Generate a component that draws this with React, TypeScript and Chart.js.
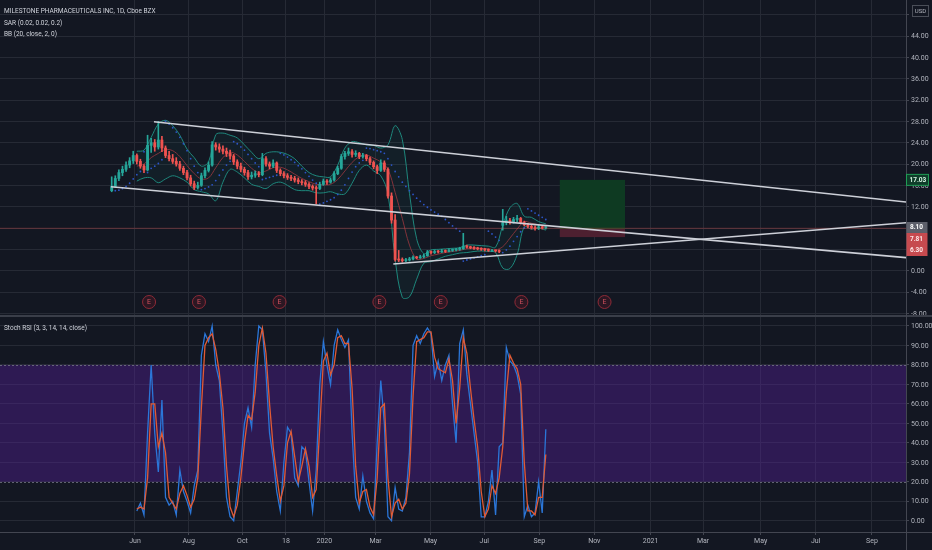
import { useEffect, useRef } from "react";
import Chart from "chart.js/auto";

// ---------- DATA ----------
const title = "MILESTONE PHARMACEUTICALS INC, 1D, Cboe BZX";
const sarLabel = "SAR (0.02, 0.02, 0.2)";
const bbLabel = "BB (20, close, 2, 0)";
const stochLabel = "Stoch RSI (3, 3, 14, 14, close)";

// candle grid, in trading-day index units (0 = IPO day)
const candleStart = -2.2;
const candleStep = 2.804;

const opens = [
  15.0, 15.8, 17.3, 18.4, 19.0, 19.8, 20.6, 21.6, 20.5, 19.6,
  18.9, 23.5, 24.0, 23.2, 24.5, 23.0, 21.6, 21.0, 20.5, 20.0,
  19.2, 18.4, 17.4, 16.3, 15.6, 16.0, 17.8, 18.8, 19.8, 23.6,
  23.2, 22.8, 22.4, 22.0, 21.5, 20.4, 19.6, 19.0, 18.4, 17.6,
  17.9, 18.2, 18.0, 21.0, 20.0, 19.6, 20.2, 18.8, 18.2, 17.8,
  17.5, 17.3, 17.0, 16.7, 16.5, 16.2, 15.8, 15.5, 15.4, 16.2,
  16.8, 16.6, 17.0, 18.2, 19.2, 21.4, 22.0, 22.3, 21.8, 22.0,
  21.4, 21.6, 21.0, 20.3, 19.5, 18.8, 20.2, 19.0, 14.0, 9.5,
  2.1, 2.0, 1.9, 2.0, 2.2, 2.5, 2.4, 2.6, 2.8, 3.5,
  3.4, 3.6, 3.5, 3.7, 3.6, 3.8, 3.9, 4.0, 4.1, 4.6,
  4.4, 4.3, 4.2, 4.1, 4.0, 3.9, 3.8, 3.8, 3.7, 8.5,
  9.0, 9.4, 9.2, 9.6, 9.8, 9.0, 8.6, 8.3, 8.1, 7.9, 8.2, 8.0,
];
const highs = [
  17.6, 17.8, 18.9, 19.6, 20.4, 21.2, 22.4, 21.9, 20.9, 19.9,
  25.4, 24.8, 24.6, 28.0, 25.2, 23.4, 22.4, 21.8, 21.2, 20.5,
  19.6, 18.8, 17.9, 16.8, 16.6, 18.3, 19.3, 20.4, 24.2, 24.0,
  23.8, 23.4, 23.0, 22.6, 21.8, 20.8, 20.2, 19.4, 18.8, 18.5,
  18.7, 18.6, 22.0, 21.4, 20.4, 20.8, 20.4, 19.1, 18.6, 18.2,
  17.9, 17.7, 17.4, 17.1, 16.9, 16.5, 16.1, 15.9, 16.6, 17.2,
  17.1, 17.4, 18.6, 19.6, 21.8, 22.4, 23.0, 22.7, 22.5, 22.2,
  22.0, 21.8, 21.3, 20.6, 19.8, 20.8, 20.6, 19.3, 14.6, 10.5,
  3.8, 2.4, 2.3, 2.5, 2.8, 2.7, 2.9, 3.1, 3.8, 3.7,
  3.9, 3.8, 4.0, 3.9, 4.1, 4.1, 4.2, 4.4, 7.0, 4.8,
  4.6, 4.5, 4.4, 4.3, 4.2, 4.1, 4.0, 3.9, 3.9, 11.5,
  10.2, 9.8, 10.0, 10.4, 10.0, 9.3, 8.9, 8.6, 8.4, 8.5, 8.4, 8.3,
];
const lows = [
  14.8, 15.6, 16.9, 17.8, 18.6, 19.3, 20.1, 20.0, 19.2, 18.4,
  18.7, 22.2, 22.4, 22.8, 22.3, 21.2, 20.6, 20.1, 19.6, 18.8,
  18.0, 17.0, 15.9, 15.2, 15.3, 15.8, 17.4, 18.5, 19.6, 22.6,
  22.2, 21.9, 21.4, 20.9, 19.9, 19.1, 18.5, 17.9, 17.1, 17.2,
  17.5, 17.6, 17.8, 19.6, 19.1, 19.3, 18.4, 17.8, 17.4, 17.1,
  16.9, 16.6, 16.3, 16.1, 15.8, 15.4, 15.1, 12.5, 15.2, 16.0,
  16.2, 16.4, 16.8, 18.0, 19.0, 20.9, 21.6, 21.3, 21.4, 21.0,
  21.1, 20.6, 19.9, 19.1, 18.2, 18.6, 18.6, 13.6, 8.9, 1.8,
  1.7, 1.6, 1.7, 1.8, 2.0, 2.2, 2.3, 2.4, 2.7, 3.1,
  3.2, 3.3, 3.4, 3.4, 3.5, 3.6, 3.7, 3.8, 4.0, 4.2,
  4.1, 4.0, 3.9, 3.8, 3.7, 3.6, 3.6, 3.5, 3.4, 7.6,
  8.6, 8.7, 8.9, 9.2, 8.8, 8.4, 8.0, 7.8, 7.6, 7.7, 7.8, 7.8,
];
const closes = [
  15.8, 17.3, 18.4, 19.0, 19.8, 20.6, 21.6, 20.5, 19.6, 18.9,
  23.5, 24.0, 23.2, 24.5, 23.0, 21.6, 21.0, 20.5, 20.0, 19.2,
  18.4, 17.4, 16.3, 15.6, 16.0, 17.8, 18.8, 19.8, 23.6, 23.2,
  22.8, 22.4, 22.0, 21.5, 20.4, 19.6, 19.0, 18.4, 17.6, 17.9,
  18.2, 18.0, 21.0, 20.0, 19.6, 20.2, 18.8, 18.2, 17.8, 17.5,
  17.3, 17.0, 16.7, 16.5, 16.2, 15.8, 15.5, 15.4, 16.2, 16.8,
  16.6, 17.0, 18.2, 19.2, 21.4, 22.0, 22.3, 21.8, 22.0, 21.4,
  21.6, 21.0, 20.3, 19.5, 18.8, 20.2, 19.0, 14.0, 9.5, 2.1,
  2.0, 1.9, 2.0, 2.2, 2.5, 2.4, 2.6, 2.8, 3.5, 3.4,
  3.6, 3.5, 3.7, 3.6, 3.8, 3.9, 4.0, 4.1, 4.6, 4.4,
  4.3, 4.2, 4.1, 4.0, 3.9, 3.8, 3.8, 3.7, 3.6, 9.0,
  9.4, 9.2, 9.6, 9.8, 9.0, 8.6, 8.3, 8.1, 7.9, 8.2, 8.0, 8.1,
];
const sar = [
  null, 15.0, 15.1, 15.4, 15.8, 16.4, 17.2, 18.0, 18.6, 22.3,
  18.4, 19.2, 19.6, 20.1, 20.8, 28.0, 27.5, 26.8, 26.0, 25.0,
  23.8, 22.5, 21.0, 19.6, 18.4, 15.2, 15.4, 15.7, 16.1, 16.9,
  17.9, 18.9, 19.8, 20.5, 24.2, 23.8, 23.2, 22.6, 21.8, 21.0,
  20.2, 19.5, 17.1, 17.3, 17.5, 17.7, 17.9, 22.0, 21.7, 21.3,
  20.8, 20.3, 19.7, 19.1, 18.4, 17.7, 17.0, 16.4, 12.5, 12.7,
  13.0, 13.3, 13.7, 14.3, 15.1, 16.1, 17.3, 18.5, 19.5, 20.2,
  20.7, 23.0, 22.9, 22.7, 22.5, 22.3, 22.0, 21.0, 19.8, 18.6,
  17.6, 16.6, 15.8, 15.0, 14.3, 13.6, 13.0, 12.4, 11.9, 11.4,
  11.0, 10.6, 10.2, 9.6, 9.0, 8.4, 7.9, 7.4, 1.8, 2.0,
  2.2, 2.4, 2.6, 2.8, 3.0, 7.4, 6.9, 6.3, 5.7, 3.4,
  3.9, 4.6, 5.5, 6.4, 7.3, 8.0, 11.6, 11.2, 10.8, 10.4, 10.0, 9.6,
];

// Bollinger bands: every 2nd candle starting at candle 7
const bbFirst = 7;
const bbEvery = 2;
const bbUpper = [
  22.4, 22.6, 25.0, 27.5, 28.2, 27.2, 25.4, 22.8, 21.2, 19.6,
  20.4, 25.5, 25.8, 25.4, 24.9, 23.6, 22.2, 21.0, 22.0, 22.3,
  22.2, 21.8, 21.0, 19.6, 18.4, 17.8, 17.6, 17.6, 19.8, 23.0,
  24.2, 24.0, 23.6, 23.5, 23.0, 23.6, 27.2, 24.6, 14.5, 6.0,
  3.2, 3.9, 4.0, 4.1, 4.2, 4.3, 4.8, 4.8, 4.7, 4.6,
  4.4, 8.5, 11.8, 12.6, 10.2, 10.0, 9.2, 8.8,
];
const bbBasis = [
  19.6, 20.0, 21.2, 22.0, 22.7, 22.5, 21.4, 19.7, 18.2, 17.2,
  17.4, 19.3, 21.2, 22.2, 21.7, 20.5, 19.2, 18.4, 18.7, 19.3,
  19.4, 18.9, 18.1, 17.3, 16.7, 16.2, 16.1, 16.2, 17.1, 18.7,
  20.3, 21.4, 21.7, 21.1, 20.4, 19.0, 14.7, 9.8, 4.8, 2.2,
  2.3, 2.8, 3.1, 3.4, 3.6, 3.8, 4.1, 4.2, 4.2, 4.1,
  3.9, 4.5, 6.1, 7.8, 9.2, 8.9, 8.6, 8.2,
];
const bbLower = [
  16.8, 17.4, 17.4, 16.5, 17.2, 17.8, 17.4, 16.6, 15.2, 14.8,
  14.4, 13.1, 16.6, 19.0, 18.5, 17.4, 16.2, 15.8, 15.4, 16.3,
  16.6, 16.0, 15.2, 15.0, 15.0, 14.6, 14.6, 14.8, 14.4, 14.4,
  16.4, 18.8, 19.8, 18.7, 17.8, 14.4, 2.2, -5.0, -4.9, -1.6,
  1.4, 1.7, 2.2, 2.7, 3.0, 3.3, 3.4, 3.6, 3.7, 3.6,
  3.4, 0.5, 0.4, 3.0, 8.2, 7.8, 8.0, 7.6,
];

// Stoch RSI, one value per candle starting at candle 7
const stochFirst = 7;
const stochK = [
  5, 9, 3, 45, 80, 45, 25, 62, 12, 8,
  10, 3, 26, 15, 10, 4, 18, 26, 85, 96,
  92, 100, 80, 72, 45, 12, 2, 0, 15, 30,
  50, 58, 48, 80, 100, 98, 76, 45, 32, 15,
  5, 30, 48, 45, 22, 18, 38, 36, 20, 5,
  26, 70, 92, 80, 70, 90, 98, 93, 89, 93,
  45, 12, 6, 23, 10, 4, 1, 40, 72, 50,
  2, 0, 17, 6, 5, 12, 35, 90, 95, 91,
  96, 99, 96, 74, 82, 72, 80, 85, 60, 40,
  91, 98, 75, 60, 45, 30, 2, 2, 10, 26,
  3, 38, 40, 89, 82, 80, 75, 65, 2, 8,
  2, 4, 20, 4, 47,
];
const stochD = [
  6, 7, 6, 22, 60, 60, 38, 45, 35, 12,
  9, 6, 14, 18, 13, 7, 11, 22, 58, 90,
  94, 96, 88, 76, 58, 28, 7, 2, 8, 22,
  40, 54, 52, 66, 90, 99, 86, 60, 38, 23,
  10, 18, 40, 46, 33, 20, 28, 37, 28, 12,
  16, 48, 82, 86, 75, 80, 94, 95, 91, 91,
  68, 28, 9, 15, 16, 7, 3, 22, 58, 60,
  22, 2, 9, 11, 6, 9, 24, 64, 92, 93,
  94, 97, 97, 84, 78, 77, 76, 83, 72, 50,
  68, 94, 86, 68, 52, 38, 15, 2, 6, 18,
  14, 22, 38, 66, 85, 81, 78, 70, 30, 5,
  5, 3, 12, 12, 34,
];

// time axis (trading-day index) and labels
const timeTickIdx = [16, 58, 100, 134, 164, 204, 247, 289, 332, 375, 419, 460, 505, 548, 592];
const timeTickLabels = ["Jun", "Aug", "Oct", "18", "2020", "Mar", "May", "Jul", "Sep", "Nov", "2021", "Mar", "May", "Jul", "Sep"];
const priceTicks = [-8, -4, 0, 4, 8, 12, 16, 20, 24, 28, 32, 36, 40, 44, 48];
const rsiTicks = [0, 10, 20, 30, 40, 50, 60, 70, 80, 90, 100];

// drawings
const earningsIdx = [27, 66, 129, 207, 255, 318, 383];
const trendStartIdx = [30.85, -2.76, 217.9];
const trendStartPrice = [27.94, 15.75, 1.26];
const trendEndIdx = [618.6, 618.6, 618.6];
const trendEndPrice = [12.88, 2.44, 9.0];
const positionFromIdx = 348;
const positionToIdx = 399;
const targetPrice = 17.03;
const entryPrice = 7.81;
const stopPrice = 6.3;
const lastPrice = 8.1;
const priceLineLevel = 7.95;

// view ranges
const X_MIN = -89.5;
const X_MAX = 618.6;
const P_MIN = -8.31;
const P_MAX = 50.76;
const R_MIN = -5.8;
const R_MAX = 104.62;

// ---------- STYLE ----------
const FONT = "Roboto, 'Noto Sans', 'DejaVu Sans', sans-serif";
const BG = "#131722";
const GRID = "#262a35";
const AXIS = "#434651";
const TEXT = "#b2b5be";
const UP = "#26a69a";
const DOWN = "#ef5350";

Chart.defaults.font.family = FONT;

function xScale(showLabels: boolean): any {
  return {
    type: "linear",
    min: X_MIN,
    max: X_MAX,
    offset: false,
    afterBuildTicks: (s: any) => {
      s.ticks = timeTickIdx.map((v) => ({ value: v }));
    },
    afterFit: (s: any) => {
      s.height = showLabels ? 18 : 0;
      s.paddingLeft = 0;
      s.paddingRight = 0;
    },
    grid: { color: GRID, offset: false, drawTicks: showLabels, tickLength: 3, tickColor: AXIS },
    border: { display: false },
    ticks: {
      display: showLabels,
      autoSkip: false,
      maxRotation: 0,
      padding: 2,
      color: TEXT,
      font: { size: 7, family: FONT },
      callback: (v: any) => {
        const k = timeTickIdx.indexOf(Number(v));
        return k >= 0 ? timeTickLabels[k] : "";
      },
    },
  };
}

function yScale(min: number, max: number, ticks: number[]): any {
  return {
    type: "linear",
    position: "right",
    min,
    max,
    afterBuildTicks: (s: any) => {
      s.ticks = ticks.map((v) => ({ value: v }));
    },
    afterFit: (s: any) => {
      s.width = 26;
    },
    grid: { color: GRID, drawTicks: true, tickLength: 3, tickColor: AXIS },
    border: { display: false },
    ticks: { display: false },
  };
}

function drawYLabels(chart: any, ticks: number[], skip: number | null) {
  const { ctx, scales } = chart;
  ctx.save();
  ctx.fillStyle = TEXT;
  ctx.font = `7px ${FONT}`;
  ctx.textAlign = "left";
  ctx.textBaseline = "middle";
  ticks.forEach((v) => {
    if (skip !== null && v === skip) return;
    ctx.fillText(v.toFixed(2), 911, scales.y.getPixelForValue(v) + 0.5);
  });
  ctx.restore();
}

function topConfig(): any {
  const xs = closes.map((_, i) => candleStart + i * candleStep);
  const colors = closes.map((c, i) => (c >= opens[i] ? UP : DOWN));
  const bbXs = bbUpper.map((_, k) => candleStart + (bbFirst + k * bbEvery) * candleStep);
  const line = (xsArr: number[], ys: any[]) => ys.map((y, i) => ({ x: xsArr[i], y }));

  const trendSets = trendStartIdx.map((s, k) => ({
    type: "line",
    data: [
      { x: s, y: trendStartPrice[k] },
      { x: trendEndIdx[k], y: trendEndPrice[k] },
    ],
    borderColor: "#cdd0d8",
    borderWidth: 1.6,
    pointRadius: 0,
    pointHoverRadius: 0,
    tension: 0,
    order: 1,
  }));

  const overlay = {
    id: "topOverlay",
    beforeDatasetsDraw(chart: any) {
      const { ctx, scales } = chart;
      const x0 = scales.x.getPixelForValue(positionFromIdx);
      const x1 = scales.x.getPixelForValue(positionToIdx);
      const yT = scales.y.getPixelForValue(targetPrice);
      const yE = scales.y.getPixelForValue(entryPrice);
      const yS = scales.y.getPixelForValue(stopPrice);
      ctx.save();
      ctx.fillStyle = "#0e3a22";
      ctx.fillRect(x0, yT, x1 - x0, yE - yT);
      ctx.fillStyle = "#4d2030";
      ctx.fillRect(x0, yE, x1 - x0, yS - yE);
      ctx.restore();
    },
    afterDatasetsDraw(chart: any) {
      const { ctx, scales, chartArea } = chart;
      ctx.save();
      const yc = chartArea.bottom - 13;
      ctx.font = `7px ${FONT}`;
      ctx.textAlign = "center";
      ctx.textBaseline = "middle";
      earningsIdx.forEach((idx) => {
        const x = scales.x.getPixelForValue(idx);
        ctx.beginPath();
        ctx.arc(x, yc, 6.5, 0, Math.PI * 2);
        ctx.fillStyle = "rgba(120,25,40,0.25)";
        ctx.fill();
        ctx.lineWidth = 1;
        ctx.strokeStyle = "#8e2b37";
        ctx.stroke();
        ctx.fillStyle = "#d0525e";
        ctx.fillText("E", x, yc + 0.5);
      });
      ctx.restore();
    },
    afterDraw(chart: any) {
      const { ctx, scales } = chart;
      drawYLabels(chart, priceTicks, 48);
      ctx.save();
      // header
      ctx.fillStyle = "#d1d4dc";
      ctx.font = `6.5px ${FONT}`;
      ctx.textAlign = "left";
      ctx.textBaseline = "middle";
      ctx.fillText(title, 4, 11.5);
      ctx.fillText(sarLabel, 4, 23);
      ctx.fillText(bbLabel, 4, 34.5);
      // axis line
      ctx.fillStyle = AXIS;
      ctx.fillRect(906, 0, 1, 315);
      // USD box
      ctx.strokeStyle = "#4a4e58";
      ctx.lineWidth = 1;
      ctx.strokeRect(912.5, 5.5, 16, 11);
      ctx.fillStyle = TEXT;
      ctx.font = `6px ${FONT}`;
      ctx.textAlign = "center";
      ctx.fillText("USD", 920.5, 11.2);
      // price labels
      ctx.textAlign = "left";
      ctx.font = `bold 6.5px ${FONT}`;
      const yT = scales.y.getPixelForValue(targetPrice);
      ctx.fillStyle = "#0f3d2a";
      ctx.fillRect(906.5, yT - 5.5, 22, 11);
      ctx.strokeStyle = "#1f9d55";
      ctx.strokeRect(906.5, yT - 5.5, 22, 11);
      ctx.fillStyle = "#d7f5e3";
      ctx.fillText(targetPrice.toFixed(2), 909.5, yT + 0.3);
      const yL = scales.y.getPixelForValue(lastPrice);
      ctx.fillStyle = "#5d606b";
      ctx.fillRect(906.5, yL - 5.5, 21, 11);
      ctx.fillStyle = "#ffffff";
      ctx.fillText(lastPrice.toFixed(2), 910, yL + 0.3);
      ctx.fillStyle = "#c64a4f";
      ctx.fillRect(906.5, yL + 5.5, 21, 23);
      ctx.fillStyle = "#fde7e8";
      ctx.fillText(entryPrice.toFixed(2), 910, yL + 11.5);
      ctx.fillText(stopPrice.toFixed(2), 910, yL + 22.5);
      ctx.restore();
    },
  };

  const lineBase = { pointRadius: 0, pointHoverRadius: 0, tension: 0.35, borderWidth: 1 };

  return {
    type: "bar",
    data: {
      datasets: [
        {
          type: "line",
          ...lineBase,
          data: line(bbXs, bbUpper),
          borderColor: "#1f887d",
          fill: 2,
          backgroundColor: "rgba(32,137,126,0.07)",
          order: 6,
        },
        {
          type: "line",
          ...lineBase,
          data: line(bbXs, bbBasis),
          borderColor: "#8b2d36",
          order: 6,
        },
        {
          type: "line",
          ...lineBase,
          data: line(bbXs, bbLower),
          borderColor: "#1f887d",
          order: 6,
        },
        {
          type: "bar",
          data: xs.map((x, i) => ({ x, y: [lows[i], highs[i]] })),
          backgroundColor: colors,
          barThickness: 1,
          grouped: false,
          borderWidth: 0,
          order: 4,
        },
        {
          type: "bar",
          data: xs.map((x, i) => ({ x, y: [opens[i], closes[i]] })),
          backgroundColor: colors,
          barThickness: 2.2,
          minBarLength: 1,
          grouped: false,
          borderWidth: 0,
          order: 4,
        },
        {
          type: "line",
          data: line(xs, sar),
          showLine: false,
          pointRadius: 0.9,
          pointHoverRadius: 0,
          pointBorderWidth: 0,
          pointBackgroundColor: "#2c55c8",
          order: 3,
        },
        {
          type: "line",
          data: [
            { x: X_MIN, y: priceLineLevel },
            { x: X_MAX, y: priceLineLevel },
          ],
          borderColor: "rgba(239,83,80,0.33)",
          borderWidth: 1,
          pointRadius: 0,
          pointHoverRadius: 0,
          order: 2,
        },
        ...trendSets,
      ],
    },
    options: {
      animation: false,
      responsive: false,
      maintainAspectRatio: false,
      events: [],
      layout: { padding: 0, autoPadding: false },
      plugins: { legend: { display: false }, tooltip: { enabled: false } },
      scales: { x: xScale(false), y: yScale(P_MIN, P_MAX, priceTicks) },
    },
    plugins: [overlay],
  };
}

function bottomConfig(): any {
  const xs = stochK.map((_, k) => candleStart + (stochFirst + k) * candleStep);
  const overlay = {
    id: "rsiOverlay",
    beforeDatasetsDraw(chart: any) {
      const { ctx, scales, chartArea } = chart;
      const y80 = scales.y.getPixelForValue(80);
      const y20 = scales.y.getPixelForValue(20);
      ctx.save();
      ctx.fillStyle = "rgba(88,33,158,0.40)";
      ctx.fillRect(chartArea.left, y80, chartArea.right - chartArea.left, y20 - y80);
      ctx.strokeStyle = "rgba(130,133,144,0.7)";
      ctx.lineWidth = 1;
      ctx.setLineDash([2, 2]);
      [y80, y20].forEach((y) => {
        ctx.beginPath();
        ctx.moveTo(chartArea.left, Math.round(y) + 0.5);
        ctx.lineTo(chartArea.right, Math.round(y) + 0.5);
        ctx.stroke();
      });
      ctx.restore();
    },
    afterDraw(chart: any) {
      const { ctx, chartArea } = chart;
      drawYLabels(chart, rsiTicks, null);
      ctx.save();
      ctx.fillStyle = "#3a3e49";
      ctx.fillRect(0, 0, 932, 2);
      ctx.fillStyle = AXIS;
      ctx.fillRect(0, Math.round(chartArea.bottom), 932, 1);
      ctx.fillRect(906, 0, 1, 235);
      ctx.fillStyle = "#d1d4dc";
      ctx.font = `6.5px ${FONT}`;
      ctx.textAlign = "left";
      ctx.textBaseline = "middle";
      ctx.fillText(stochLabel, 4, 13);
      ctx.restore();
    },
  };
  return {
    type: "line",
    data: {
      datasets: [
        {
          data: stochD.map((y, i) => ({ x: xs[i], y })),
          borderColor: "#e05a35",
          borderWidth: 1.3,
          pointRadius: 0,
          pointHoverRadius: 0,
          tension: 0,
          order: 1,
        },
        {
          data: stochK.map((y, i) => ({ x: xs[i], y })),
          borderColor: "#2b76d8",
          borderWidth: 1.3,
          pointRadius: 0,
          pointHoverRadius: 0,
          tension: 0,
          order: 2,
        },
      ],
    },
    options: {
      animation: false,
      responsive: false,
      maintainAspectRatio: false,
      events: [],
      layout: { padding: { top: 2, left: 0, right: 0, bottom: 0 }, autoPadding: false },
      plugins: { legend: { display: false }, tooltip: { enabled: false } },
      scales: { x: xScale(true), y: yScale(R_MIN, R_MAX, rsiTicks) },
    },
    plugins: [overlay],
  };
}

export default function App() {
  const topRef = useRef<HTMLCanvasElement>(null);
  const botRef = useRef<HTMLCanvasElement>(null);
  useEffect(() => {
    document.body.style.margin = "0";
    document.body.style.background = BG;
    const top = new Chart(topRef.current as HTMLCanvasElement, topConfig());
    const bot = new Chart(botRef.current as HTMLCanvasElement, bottomConfig());
    return () => {
      top.destroy();
      bot.destroy();
    };
  }, []);
  return (
    <div style={{ position: "fixed", left: 0, top: 0, width: 932, height: 550, background: BG }}>
      <canvas ref={topRef} width={932} height={315} style={{ display: "block", width: 932, height: 315 }} />
      <canvas ref={botRef} width={932} height={235} style={{ display: "block", width: 932, height: 235 }} />
    </div>
  );
}
